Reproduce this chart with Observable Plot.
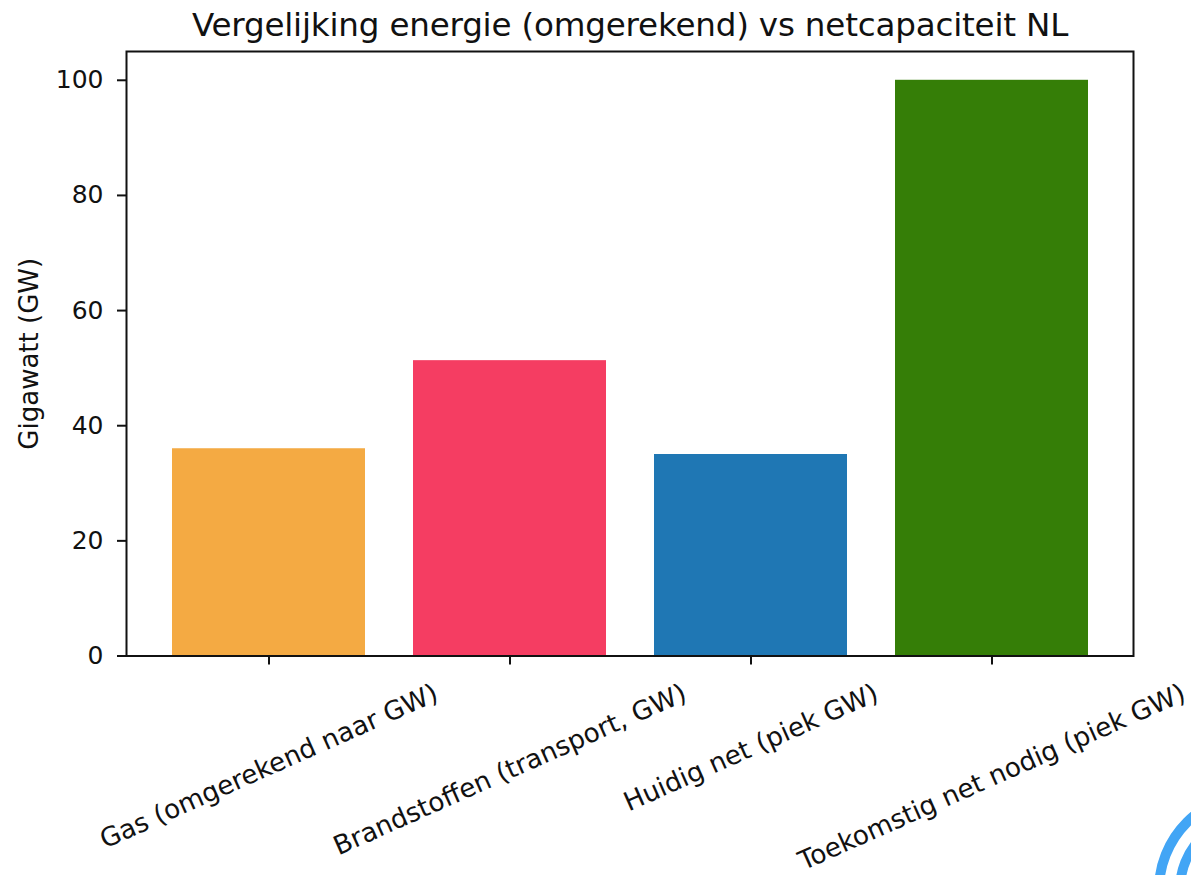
<!DOCTYPE html>
<html>
<head>
<meta charset="utf-8">
<script src="https://cdn.jsdelivr.net/npm/d3@7"></script>
<script src="https://cdn.jsdelivr.net/npm/@observablehq/plot@0.6"></script>
<style>
  html, body { margin: 0; padding: 0; background: #fff; }
  #wrap { position: relative; width: 1191px; height: 875px; overflow: hidden; background: #fff; }
  #title { position: absolute; left: 0; top: 3px; width: 1260px; height: 44px; line-height: 44px;
           text-align: center; font-family: "DejaVu Sans", sans-serif; font-size: 32.6px; letter-spacing: -0.2px; color: #111; }
  #chart { position: absolute; left: 0; top: 44px; }
  #logo { position: absolute; left: 0; top: 0; pointer-events: none; }
</style>
</head>
<body>
<div id="wrap">
  <div id="title">Vergelijking energie (omgerekend) vs netcapaciteit NL</div>
  <div id="chart"></div>
  <svg id="logo" width="1191" height="875">
    <circle cx="1255" cy="890" r="96" fill="none" stroke="#42a5f5" stroke-width="10"></circle>
    <circle cx="1255" cy="890" r="75" fill="none" stroke="#42a5f5" stroke-width="10"></circle>
  </svg>
</div>
<script>
const categories = [
  "Gas (omgerekend naar GW)",
  "Brandstoffen (transport, GW)",
  "Huidig net (piek GW)",
  "Toekomstig net nodig (piek GW)"
];
const values = [36, 51.3, 35, 100];
const colors = ["#f4aa43", "#f53d62", "#1f77b4", "#357e07"];
const yTicks = [0, 20, 40, 60, 80, 100];

const data = categories.map((c, i) => ({cat: c, value: values[i], color: colors[i]}));

const FONT = "DejaVu Sans";
const FS = 25;
const XFS = 26.3;
const ANGLE = 24;
const ctx = document.createElement("canvas").getContext("2d");
ctx.font = `${XFS}px "${FONT}"`;
const rad = ANGLE * Math.PI / 180;
const lineH = 1.164 * XFS;
function labelDy(text) {
  const L = ctx.measureText(text).width;
  const H = L * Math.sin(rad) + lineH * Math.cos(rad);
  return 22 + H / 2;
}

const labelMarks = categories.map(c => Plot.text([c], {
  x: d => d,
  text: d => d,
  frameAnchor: "bottom",
  dy: labelDy(c),
  rotate: -ANGLE,
  textAnchor: "middle",
  lineAnchor: "middle",
  fontSize: XFS,
  fill: "#111"
}));

const chart = Plot.plot({
  width: 1191,
  height: 831,
  marginLeft: 126,
  marginRight: 58,
  marginTop: 7,
  marginBottom: 219.5,
  style: {fontFamily: FONT, fontSize: FS + "px", color: "#111", background: "transparent", overflow: "visible"},
  x: {domain: categories, paddingInner: 0.2, paddingOuter: 0.183, axis: null},
  y: {domain: [0, 105], axis: null},
  color: {type: "identity"},
  marks: [
    Plot.barY(data, {x: "cat", y: "value", fill: "color"}),
    Plot.frame({stroke: "#111", strokeWidth: 2}),
    Plot.axisY({ticks: yTicks, tickSize: 9, tickPadding: 14, strokeWidth: 2, fontSize: FS,
                label: null}),
    Plot.axisY({ticks: [], tickSize: 0, fontSize: 26,
                label: "Gigawatt (GW)", labelAnchor: "center", labelOffset: 107, labelArrow: "none"}),
    Plot.axisX({tickSize: 9, strokeWidth: 2, tickFormat: () => "", label: null}),
    ...labelMarks
  ]
});
document.getElementById("chart").appendChild(chart);
</script>
</body>
</html>
